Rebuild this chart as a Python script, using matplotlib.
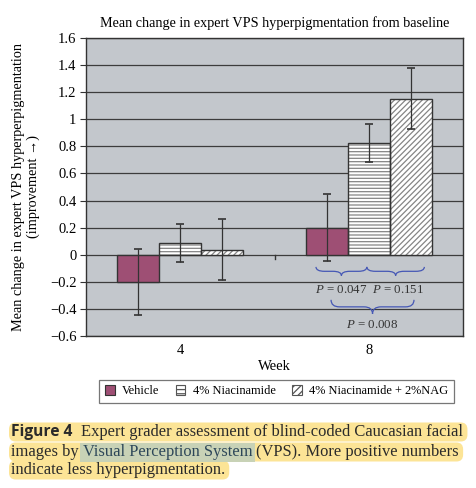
import numpy as np
import matplotlib.pyplot as plt
from matplotlib.path import Path
from matplotlib.patches import PathPatch, FancyBboxPatch, Rectangle

plt.rcParams['font.family'] = ['Liberation Serif', 'DejaVu Serif']
plt.rcParams['mathtext.fontset'] = 'custom'
plt.rcParams['mathtext.rm'] = 'Liberation Serif'
plt.rcParams['mathtext.it'] = 'Liberation Serif:italic'
plt.rcParams['hatch.linewidth'] = 0.9

weeks = ['4', '8']
series_names = ['Vehicle', '4% Niacinamide', '4% Niacinamide + 2%NAG']
vehicle_mean = [-0.20, 0.20]
niac_mean = [0.085, 0.825]
nag_mean = [0.035, 1.15]
vehicle_err = [0.245, 0.25]
niac_err = [0.14, 0.14]
nag_err = [0.225, 0.225]
p_labels = ['$P$ = 0.047', '$P$ = 0.151', '$P$ = 0.008']

bar_col = '#9e4f74'
bg_col = '#c3c7cc'
edge = '#333333'
blue = '#4557b5'

fig = plt.figure(figsize=(4.76, 4.88), dpi=100)
ax = fig.add_axes([0.1807, 0.3115, 0.792, 0.6107])
ax.set_facecolor(bg_col)

x = np.arange(len(weeks))
w = 0.223
means = [vehicle_mean, niac_mean, nag_mean]
errs = [vehicle_err, niac_err, nag_err]
fills = [bar_col, 'white', 'white']
hatches = [None, '-----', '//////']
for i in range(3):
    pos = x + (i - 1) * w
    if hatches[i]:
        ax.bar(pos, means[i], w, color=fills[i], edgecolor='#858585',
               hatch=hatches[i], linewidth=0, zorder=2)
        ax.bar(pos, means[i], w, fill=False, edgecolor=edge, linewidth=1, zorder=3)
    else:
        ax.bar(pos, means[i], w, color=fills[i], edgecolor=edge, linewidth=1, zorder=3)
    ax.errorbar(pos, means[i], yerr=errs[i], fmt='none', ecolor='#333333',
                elinewidth=0.9, capsize=3.2, capthick=1.2, zorder=4)

ax.set_xlim(-0.5, 1.5)
ax.set_ylim(-0.6, 1.6)
ax.set_yticks(np.arange(-0.6, 1.61, 0.2))
ax.set_yticklabels(['\u22120.6', '\u22120.4', '\u22120.2', '0', '0.2', '0.4', '0.6',
                    '0.8', '1', '1.2', '1.4', '1.6'])
ax.set_xticks(x)
ax.set_xticklabels(weeks)
ax.tick_params(axis='x', length=0, pad=6, labelsize=10.5)
ax.tick_params(axis='y', length=4, width=0.8, pad=3, labelsize=10.5, color='#333333')
ax.yaxis.grid(True, color='#3c3c3c', linewidth=0.9)
ax.set_axisbelow(True)
for s in ax.spines.values():
    s.set_color('#333333')
    s.set_linewidth(1)
ax.plot([0.5, 0.5], [0, -0.03], color='#333333', lw=1, zorder=2)

ax.set_title('Mean change in expert VPS hyperpigmentation from baseline',
             fontsize=10.2, pad=8)
ax.set_xlabel('Week', fontsize=10.5, labelpad=2)
ax.set_ylabel('Mean change in expert VPS hyperperpigmentation\n(improvement \u2192)',
              fontsize=10.3, linespacing=1.15)
ax.yaxis.set_label_coords(-0.122, 0.5)


def brace(x0, x1, ytop, ytip, q=0.045):
    ym = (ytop + ytip) / 2
    xm = (x0 + x1) / 2
    verts = [(x0, ytop), (x0, ym), (x0 + q, ym), (xm - q, ym), (xm, ym), (xm, ytip),
             (xm, ym), (xm + q, ym), (x1 - q, ym), (x1, ym), (x1, ytop)]
    codes = [Path.MOVETO, Path.CURVE3, Path.CURVE3, Path.LINETO, Path.CURVE3, Path.CURVE3,
             Path.CURVE3, Path.CURVE3, Path.LINETO, Path.CURVE3, Path.CURVE3]
    ax.add_patch(PathPatch(Path(verts, codes), fill=False, edgecolor=blue, lw=0.9, zorder=5))


brace(0.72, 0.99, -0.09, -0.155)
brace(0.99, 1.295, -0.09, -0.155)
brace(0.80, 1.24, -0.333, -0.437)
ax.text(0.855, -0.262, p_labels[0], ha='center', va='center', fontsize=9.3, color='#333333')
ax.text(1.155, -0.262, p_labels[1], ha='center', va='center', fontsize=9.3, color='#333333')
ax.text(1.02, -0.52, p_labels[2], ha='center', va='center', fontsize=9.3, color='#333333')

handles = [Rectangle((0, 0), 1, 1, facecolor=bar_col, edgecolor=edge, lw=0.8),
           Rectangle((0, 0), 1, 1, facecolor='white', edgecolor='#555555', hatch='----', lw=0.8),
           Rectangle((0, 0), 1, 1, facecolor='white', edgecolor='#555555', hatch='/////', lw=0.8)]
leg = fig.legend(handles, series_names, loc='center', bbox_to_anchor=(0.581, 0.198),
                 ncol=3, fontsize=8.9, frameon=True, fancybox=False, handlelength=0.8,
                 handleheight=0.8, handletextpad=0.6, columnspacing=1.3,
                 borderpad=0.45)
leg.get_frame().set_edgecolor('#555555')
leg.get_frame().set_linewidth(0.9)

# caption, highlighted lines
W, H = fig.get_size_inches() * fig.dpi
renderer = fig.canvas.get_renderer()
cap_font = ['Liberation Serif', 'DejaVu Serif']
txt_col = '#2a2a2a'
lines = [
    [('Figure 4', dict(family=['Open Sans'], weight='bold'), None),
     ('Expert grader assessment of blind-coded Caucasian facial', {}, None)],
    [('images by', {}, None), ('Visual Perception System', dict(color='#2c4658'), '#c8d2b6'),
     ('(VPS). More positive numbers', {}, None)],
    [('indicate less hyperpigmentation.', {}, None)],
]
line_y = [432, 452, 470]


def layout(fs):
    made = []

    def width_of(s):
        t = fig.text(0, 0, s, fontsize=fs, family=cap_font)
        wd = t.get_window_extent(renderer).width
        t.remove()
        return wd

    space_w = width_of('x x') - width_of('xx')
    ends = []
    for li, segs in enumerate(lines):
        xp = 11
        yp = H - line_y[li]
        spans = []
        for si, (s, kw, hl) in enumerate(segs):
            opts = dict(family=cap_font, color=txt_col, fontsize=fs)
            opts.update(kw)
            if 'weight' in kw:
                opts['fontsize'] = fs * 0.95
            t = fig.text(xp / W, yp / H, s, va='center', ha='left', zorder=3, **opts)
            made.append(t)
            bb = t.get_window_extent(renderer)
            spans.append((bb.x0, bb.x1, hl))
            xp = bb.x1 + (space_w * 2.2 if li == 0 and si == 0 else space_w)
        x_end = spans[-1][1]
        ends.append(x_end)
        p = FancyBboxPatch((9 / W, (yp - 9.5) / H), (x_end - 5) / W, 19 / H,
                           boxstyle='round,pad=0,rounding_size=0.014',
                           transform=fig.transFigure, facecolor='#fce496',
                           edgecolor='none', zorder=1)
        fig.add_artist(p)
        made.append(p)
        for x0, x1, hl in spans:
            if hl:
                r = Rectangle(((x0 - 3) / W, (yp - 9.5) / H), (x1 - x0 + 6) / W, 19 / H,
                              transform=fig.transFigure, facecolor=hl,
                              edgecolor='none', zorder=2)
                fig.add_artist(r)
                made.append(r)
    return made, ends


cap_fs = 12
made, ends = layout(cap_fs)
for a in made:
    a.remove()
cap_fs = cap_fs * (462 - 11) / (ends[0] - 11)
layout(cap_fs)

fig.savefig('out.png', dpi=100)
